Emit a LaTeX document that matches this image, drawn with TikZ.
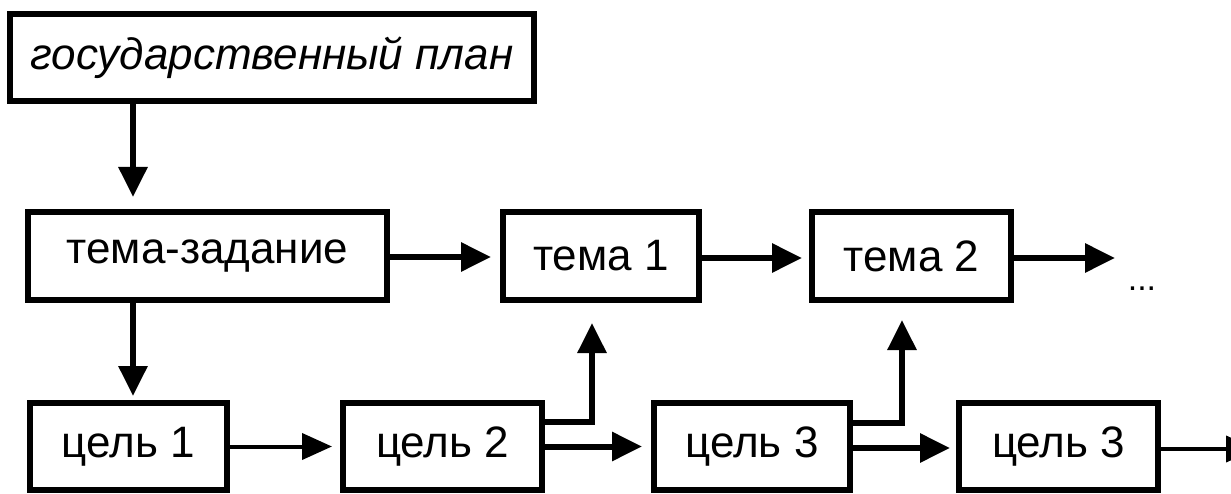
\documentclass[tikz,border=0pt]{standalone}
\usepackage{fontspec}
\setmainfont{Liberation Sans}
\usetikzlibrary{arrows.meta}
\tikzset{
  box/.style={draw=black, line width=6pt, inner sep=0pt, minimum height=88pt,
              font=\fontsize{44}{50}\selectfont, anchor=center},
  arr/.style={line width=6pt, -{Triangle[length=30pt,width=28pt]}},
  thinarr/.style={line width=4pt, -{Triangle[length=30pt,width=26pt]}},
}
\begin{document}
\begin{tikzpicture}[x=1pt,y=-1pt]
\clip (0,0) rectangle (1231,494);
\fill[white] (0,0) rectangle (1231,494);
% boxes
\node[box, minimum width=524pt, minimum height=87pt, font=\fontsize{44}{50}\selectfont\itshape] (plan) at (272,57.5) {государственный план};
\node[box, minimum width=359pt] (task) at (207.5,256) {тема-задание};
\node[box, minimum width=196pt] (t1) at (601,256) {тема 1};
\node[box, minimum width=199pt] (t2) at (911.5,256) {тема 2};
\node[box, minimum width=197pt, minimum height=87pt] (g1) at (128.5,446.5) {цель 1};
\node[box, minimum width=199pt, minimum height=87pt] (g2) at (442.5,446.5) {цель 2};
\node[box, minimum width=196pt, minimum height=87pt] (g3) at (752,446.5) {цель 3};
\node[box, minimum width=199pt, minimum height=87pt] (g4) at (1058.5,446.5) {цель 3};
% helper coordinates
\coordinate (c1) at (133,0);
\coordinate (e1) at (592,422);
\coordinate (e2) at (902,423);
\coordinate (end2) at (1115,258);
\coordinate (end4) at (1256,449);
\node[font=\fontsize{34}{40}\selectfont, inner sep=0pt] (dots) at (1142,289) {...};
% connectors
\draw[arr, shorten >=12pt] (plan.south -| c1) -- (task.north -| c1);
\draw[arr] (task.south -| c1) -- ([yshift=4pt]g1.north -| c1);
\draw[arr, shorten >=9pt] ([yshift=-1pt]task.east) -- ([yshift=-1pt]task.east -| t1.west);
\draw[arr, shorten >=7pt] ([yshift=-2pt]t1.east) -- ([yshift=-2pt]t1.east -| t2.west);
\draw[arr] ([yshift=-2pt]t2.east) -- (end2);
\draw[thinarr, shorten >=8pt] (g1.east) -- (g1.east -| g2.west);
\draw[line width=5pt, arr, shorten >=20pt] (g2.east |- e1) -- (e1) -- (e1 |- t1.south);
\draw[arr, shorten >=9pt] (g2.east) -- (g2.east -| g3.west);
\draw[line width=5pt, arr, shorten >=17pt] (g3.east |- e2) -- (e2) -- (e2 |- t2.south);
\draw[arr, shorten >=6pt] ([yshift=-1.5pt]g3.east) -- ([yshift=-1.5pt]g3.east -| g4.west);
\draw[thinarr] ([yshift=-2.5pt]g4.east) -- (end4);
\end{tikzpicture}
\end{document}
